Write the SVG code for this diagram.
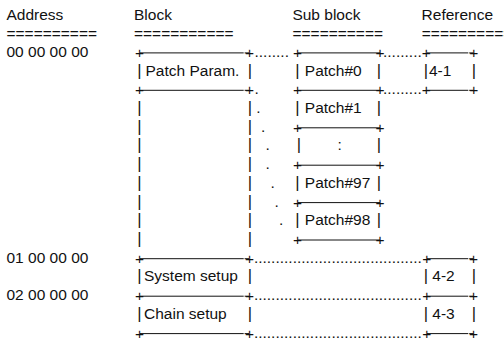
<svg xmlns="http://www.w3.org/2000/svg" width="504" height="338" viewBox="0 0 504 338">
<style>
text{font-family:"Liberation Sans",Arial,Helvetica,sans-serif;font-size:15.5px;fill:#111}
.m{text-anchor:middle}
.p{text-anchor:middle;font-size:16.6px}
line{stroke:#111;stroke-width:1}
</style>
<rect width="504" height="338" fill="#fff"/>
<g id="headers">
<text x="6.5" y="20">Address</text>
<text x="134" y="20">Block</text>
<text x="292.4" y="20">Sub block</text>
<text x="421.6" y="20">Reference</text>
<text x="6.5" y="38.5">==========</text>
<text x="134" y="38.5">===========</text>
<text x="292.5" y="38.5">==========</text>
<text x="421.8" y="38.5">==========</text>
</g>
<g id="addresses">
<text x="6.5" y="56.9">00 00 00 00</text>
<text x="6.5" y="262.7">01 00 00 00</text>
<text x="6.5" y="300.2">02 00 00 00</text>
</g>
<g id="block-patch-param">
<line x1="140" y1="52.9" x2="243.7" y2="52.9"/><line x1="244.6" y1="52.9" x2="249" y2="52.9"/>
<line x1="140" y1="90.3" x2="243.7" y2="90.3"/><line x1="244.6" y1="90.3" x2="249" y2="90.3"/>
<text class="m" x="139.5" y="57.9">+</text><text class="m" x="249.5" y="57.9">+</text>
<text class="p" x="139.5" y="75.6">|</text><text x="145.5" y="75.6">Patch Param.</text><text class="p" x="250" y="75.6">|</text>
<text class="m" x="139.5" y="95.3">+</text><text class="m" x="249.5" y="95.3">+</text>
</g>
<g id="block-patch-area">
<text class="p" x="139.5" y="113.05">|</text><text class="p" x="250" y="113.05">|</text>
<text class="p" x="139.5" y="131.76">|</text><text class="p" x="250" y="131.76">|</text>
<text class="p" x="139.5" y="150.47">|</text><text class="p" x="250" y="150.47">|</text>
<text class="p" x="139.5" y="169.18">|</text><text class="p" x="250" y="169.18">|</text>
<text class="p" x="139.5" y="187.89">|</text><text class="p" x="250" y="187.89">|</text>
<text class="p" x="139.5" y="206.6">|</text><text class="p" x="250" y="206.6">|</text>
<text class="p" x="139.5" y="225.31">|</text><text class="p" x="250" y="225.31">|</text>
<text class="p" x="139.5" y="244.02">|</text><text class="p" x="250" y="244.02">|</text>
</g>
<g id="block-system-setup">
<line x1="140" y1="258.7" x2="243.7" y2="258.7"/><line x1="244.6" y1="258.7" x2="249" y2="258.7"/>
<text class="m" x="139.5" y="263.73">+</text><text class="m" x="249.5" y="263.73">+</text>
<text class="p" x="139.5" y="281.44">|</text><text x="144" y="281.44">System setup</text><text class="p" x="250" y="281.44">|</text>
</g>
<g id="block-chain-setup">
<line x1="140" y1="296.2" x2="243.7" y2="296.2"/><line x1="244.6" y1="296.2" x2="249" y2="296.2"/>
<line x1="140" y1="333.6" x2="243.7" y2="333.6"/><line x1="244.6" y1="333.6" x2="249" y2="333.6"/>
<text class="m" x="139.5" y="301.15">+</text><text class="m" x="249.5" y="301.15">+</text>
<text class="p" x="139.5" y="318.86">|</text><text x="144" y="318.86">Chain setup</text><text class="p" x="250" y="318.86">|</text>
<text class="m" x="139.5" y="338.5">+</text><text class="m" x="249.5" y="338.5">+</text>
</g>
<g id="sub-patch0">
<line x1="298" y1="52.9" x2="380" y2="52.9"/><line x1="298" y1="90.3" x2="380" y2="90.3"/>
<text class="m" x="297.5" y="57.9">+</text><text class="m" x="380" y="57.9">+</text>
<text class="p" x="297.5" y="75.6">|</text><text x="304.8" y="75.6">Patch#0</text><text class="p" x="379" y="75.6">|</text>
<text class="m" x="297.5" y="95.3">+</text><text class="m" x="380" y="95.3">+</text>
</g>
<g id="sub-patch1">
<line x1="298" y1="127.8" x2="380" y2="127.8"/>
<text class="p" x="297.5" y="113.05">|</text><text x="304.8" y="113.05">Patch#1</text><text class="p" x="379" y="113.05">|</text>
<text class="m" x="297.5" y="132.76">+</text><text class="m" x="380" y="132.76">+</text>
</g>
<g id="sub-ellipsis">
<line x1="298" y1="165.2" x2="380" y2="165.2"/>
<text class="p" x="299" y="150.47">|</text><text class="m" x="339.7" y="150.47">:</text><text class="p" x="379" y="150.47">|</text>
<text class="m" x="297.5" y="170.18">+</text><text class="m" x="380" y="170.18">+</text>
</g>
<g id="sub-patch97">
<line x1="298" y1="202.6" x2="380" y2="202.6"/>
<text class="p" x="297.5" y="187.89">|</text><text x="304.8" y="187.89">Patch#97</text><text class="p" x="379" y="187.89">|</text>
<text class="m" x="297.5" y="207.6">+</text><text class="m" x="380" y="207.6">+</text>
</g>
<g id="sub-patch98">
<line x1="298" y1="240" x2="380" y2="240"/>
<text class="p" x="297.5" y="225.31">|</text><text x="304.8" y="225.31">Patch#98</text><text class="p" x="379" y="225.31">|</text>
<text class="m" x="297.5" y="245.02">+</text><text class="m" x="380" y="245.02">+</text>
</g>
<g id="ref-4-1">
<line x1="427" y1="52.9" x2="468.3" y2="52.9"/><line x1="469.2" y1="52.9" x2="473.5" y2="52.9"/>
<line x1="427" y1="90.3" x2="468.3" y2="90.3"/><line x1="469.2" y1="90.3" x2="473.5" y2="90.3"/>
<text class="m" x="426.3" y="57.9">+</text><text class="m" x="473.8" y="57.9">+</text>
<text class="p" x="426" y="75.6">|</text><text x="429" y="75.6">4-1</text><text class="p" x="474" y="75.6">|</text>
<text class="m" x="426.3" y="95.3">+</text><text class="m" x="473.8" y="95.3">+</text>
</g>
<g id="ref-4-2">
<line x1="427" y1="258.7" x2="468.3" y2="258.7"/><line x1="469.2" y1="258.7" x2="473.5" y2="258.7"/>
<text class="m" x="426.8" y="263.73">+</text><text class="m" x="473.5" y="263.73">+</text>
<text class="p" x="426" y="281.44">|</text><text x="432.3" y="281.44">4-2</text><text class="p" x="474" y="281.44">|</text>
</g>
<g id="ref-4-3">
<line x1="427" y1="296.2" x2="468.3" y2="296.2"/><line x1="469.2" y1="296.2" x2="473.5" y2="296.2"/>
<line x1="427" y1="333.6" x2="468.3" y2="333.6"/><line x1="469.2" y1="333.6" x2="473.5" y2="333.6"/>
<text class="m" x="426.8" y="301.15">+</text><text class="m" x="473.5" y="301.15">+</text>
<text class="p" x="426" y="318.86">|</text><text x="432.3" y="318.86">4-3</text><text class="p" x="474" y="318.86">|</text>
<text class="m" x="426.8" y="338.5">+</text><text class="m" x="473.5" y="338.5">+</text>
</g>
<g id="connectors">
<text x="254.5" y="56.9">........</text>
<text x="254.5" y="94.3">.</text>
<text x="256.3" y="113.05">.</text>
<text x="260.9" y="131.76">.</text>
<text x="265.4" y="150.47">.</text>
<text x="265.4" y="169.18">.</text>
<text x="270.4" y="187.89">.</text>
<text x="274.5" y="206.6">.</text>
<text x="278.9" y="225.31">.</text>
<text x="383" y="56.9">.........</text>
<text x="383" y="94.3">.........</text>
<text x="253.9" y="262.73">.......................................</text>
<text x="253.9" y="300.15">.......................................</text>
<text x="253.9" y="337.5">.......................................</text>
</g>
</svg>
